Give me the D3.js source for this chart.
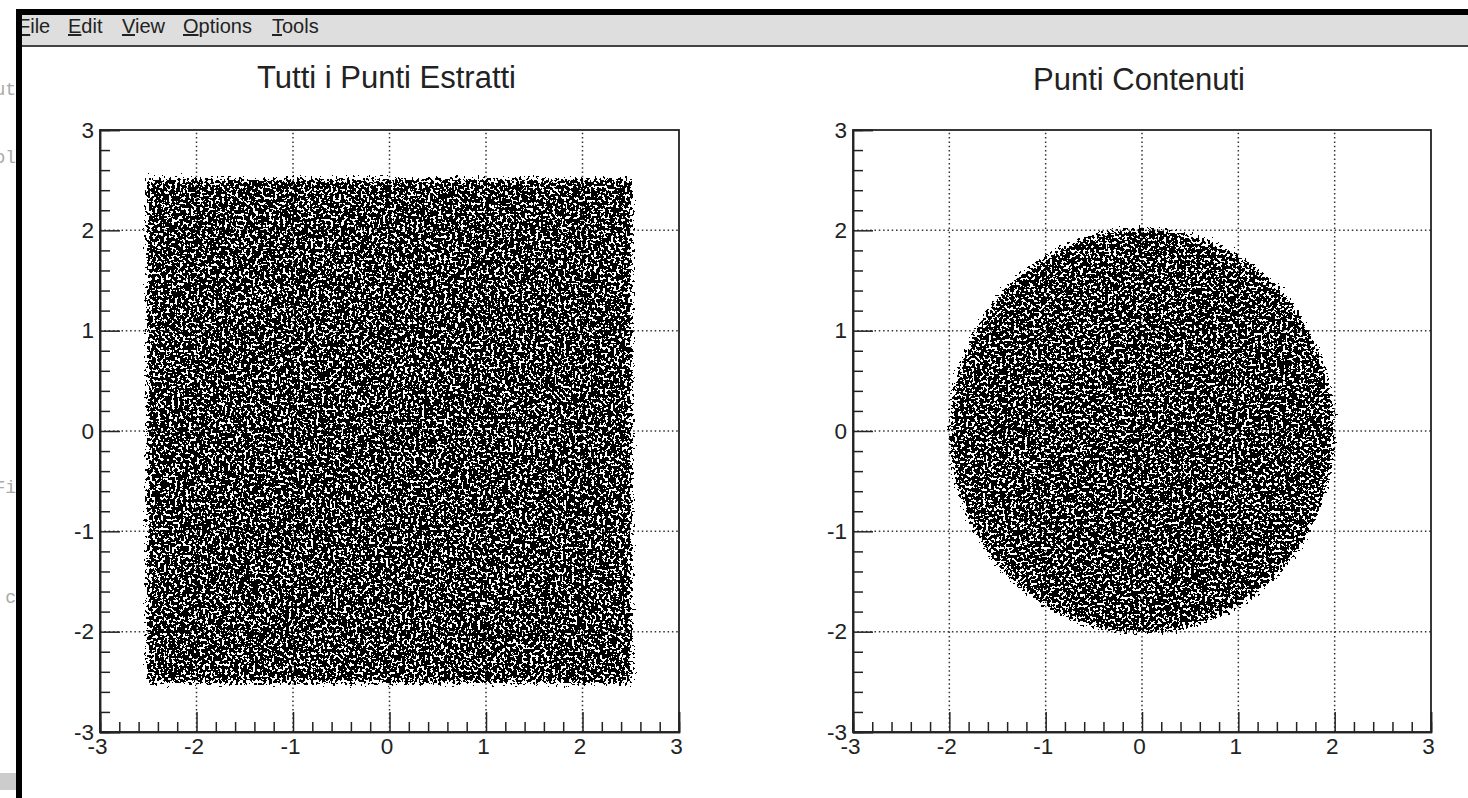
<!DOCTYPE html>
<html>
<head>
<meta charset="utf-8">
<script src="https://d3js.org/d3.v7.min.js"></script>
<style>
body { margin: 0; background: white; overflow: hidden; }
text { font-family: "Liberation Sans", Arial, sans-serif; fill: #111; }
.axis path, .axis line { stroke: #222; stroke-width: 1.5; }
.axis text { font-size: 22.5px; font-family: "Liberation Sans", Arial, sans-serif; fill: #222; }
.grid line { stroke: #333; stroke-width: 1.5; stroke-dasharray: 1.5 2.8; }
</style>
</head>
<body>
<div id="cont"></div>
<script>
// Values //

var menuItems = ["File", "Edit", "View", "Options", "Tools"];
var menuX = [18, 68, 122, 183, 272];
var majorTicks = [-3, -2, -1, 0, 1, 2, 3];
var minorTicks = [-2.8, -2.6, -2.4, -2.2, -1.8, -1.6, -1.4, -1.2, -0.8, -0.6, -0.4, -0.2,
	0.2, 0.4, 0.6, 0.8, 1.2, 1.4, 1.6, 1.8, 2.2, 2.4, 2.6, 2.8];
var gridTicks = [-2, -1, 0, 1, 2];
var titles = ["Tutti i Punti Estratti", "Punti Contenuti"];
var squareExtent = [-2.54, 2.54]; // extent of the left cloud, both axes
var discRadius = [2.02, 2.04];    // x and y radius of the right cloud
var behindText = [["ut", 95], ["ol", 163], ["Fi", 493], ["c", 603]];

// SVG Stuff //

var svg = d3.select("#cont").append("svg").attr("width", 1468).attr("height", 798)
	.style("display", "block");
var defs = svg.append("defs");

// Window behind the canvas
var back = svg.append("g");
back.selectAll("text").data(behindText).enter().append("text")
	.attr("x", 16).attr("y", function(d) { return d[1]; })
	.attr("text-anchor", "end")
	.style("font-family", "'Liberation Mono', monospace").style("font-size", "18px")
	.style("fill", "#aaa")
	.text(function(d) { return d[0]; });
back.append("rect").attr("x", 0).attr("y", 773).attr("width", 16).attr("height", 17).attr("fill", "#ccc");

// Window frame and menu bar
svg.append("rect").attr("x", 16).attr("y", 9).attr("width", 1452).attr("height", 6).attr("fill", "black");
svg.append("rect").attr("x", 16).attr("y", 9).attr("width", 6).attr("height", 789).attr("fill", "black");
svg.append("rect").attr("x", 22).attr("y", 15).attr("width", 1446).attr("height", 30).attr("fill", "#dedede");
svg.append("rect").attr("x", 22).attr("y", 45).attr("width", 1446).attr("height", 2).attr("fill", "#444");

defs.append("clipPath").attr("id", "menuClip").append("rect")
	.attr("x", 22).attr("y", 15).attr("width", 1446).attr("height", 30);

var menu = svg.append("g").attr("clip-path", "url(#menuClip)");
menuItems.forEach(function(name, i) {
	var t = menu.append("text").attr("x", menuX[i]).attr("y", 33)
		.style("font-size", "20px").style("fill", "#222");
	t.append("tspan").style("text-decoration", "underline").text(name[0]);
	t.append("tspan").text(name.slice(1));
});

// Noise grain for a point cloud. It is a texture only, the shape it fills comes from the scales
var grain = function(id, seed, x, y, w, h) {
	var f = defs.append("filter").attr("id", id)
		.attr("filterUnits", "userSpaceOnUse")
		.attr("x", x).attr("y", y).attr("width", w).attr("height", h)
		.attr("color-interpolation-filters", "sRGB");
	f.append("feGaussianBlur").attr("in", "SourceAlpha").attr("stdDeviation", 3.5).attr("result", "soft");
	f.append("feTurbulence").attr("type", "fractalNoise").attr("baseFrequency", 0.36)
		.attr("numOctaves", 2).attr("seed", seed).attr("result", "raw");
	f.append("feColorMatrix").attr("in", "raw").attr("type", "matrix")
		.attr("values", "0 0 0 0 0  0 0 0 0 0  0 0 0 0 0  1 0 0 0 0").attr("result", "noise");
	f.append("feComposite").attr("in", "soft").attr("in2", "noise").attr("operator", "arithmetic")
		.attr("k1", 0).attr("k2", 0.52).attr("k3", 1).attr("k4", -0.45).attr("result", "mix");
	var ct = f.append("feComponentTransfer").attr("in", "mix").attr("result", "hard");
	ct.append("feFuncR").attr("type", "discrete").attr("tableValues", "0 0");
	ct.append("feFuncG").attr("type", "discrete").attr("tableValues", "0 0");
	ct.append("feFuncB").attr("type", "discrete").attr("tableValues", "0 0");
	ct.append("feFuncA").attr("type", "discrete").attr("tableValues", "0 1");
};

var panel = function(left, right, title, titleX, titleY, drawCloud) {
	var x = d3.scaleLinear().domain([-3, 3]).range([left, right]);
	var y = d3.scaleLinear().domain([-3, 3]).range([732, 130]);
	var g = svg.append("g");

	g.append("text").attr("x", titleX).attr("y", titleY).attr("text-anchor", "middle")
		.style("font-size", "31px").style("fill", "#222").text(title);

	// grid
	var grid = g.append("g").attr("class", "grid");
	grid.selectAll(".gx").data(gridTicks).enter().append("line")
		.attr("x1", x).attr("x2", x).attr("y1", y(-3)).attr("y2", y(3));
	grid.selectAll(".gy").data(gridTicks).enter().append("line")
		.attr("y1", y).attr("y2", y).attr("x1", x(-3)).attr("x2", x(3));

	drawCloud(g, x, y);

	// frame
	g.append("rect").attr("x", x(-3)).attr("y", y(3))
		.attr("width", x(3) - x(-3)).attr("height", y(-3) - y(3))
		.attr("fill", "none").attr("stroke", "#222").attr("stroke-width", 1.8);

	// axes, ticks point inwards
	var bottom = g.append("g").attr("class", "axis").attr("transform", "translate(0,732)");
	bottom.call(d3.axisBottom(x).tickValues(majorTicks).tickSize(-20).tickPadding(6).tickFormat(String));
	bottom.selectAll("text").attr("dx", -3);
	bottom.append("g").call(d3.axisBottom(x).tickValues(minorTicks).tickSize(-10).tickFormat(""));

	var leftAxis = g.append("g").attr("class", "axis").attr("transform", "translate(" + left + ",0)");
	leftAxis.call(d3.axisLeft(y).tickValues(majorTicks).tickSize(-20).tickPadding(6).tickFormat(String));
	leftAxis.append("g").call(d3.axisLeft(y).tickValues(minorTicks).tickSize(-10).tickFormat(""));

	g.selectAll(".axis g g .domain").remove();
	g.selectAll(".axis").selectAll("text").filter(function() { return this.textContent === ""; }).remove();
};

panel(100, 679, titles[0], 386.5, 88, function(g, x, y) {
	grain("cloudA", 3, x(-3), y(3), x(3) - x(-3), y(-3) - y(3));
	g.append("rect").attr("filter", "url(#cloudA)")
		.attr("x", x(squareExtent[0])).attr("y", y(squareExtent[1]))
		.attr("width", x(squareExtent[1]) - x(squareExtent[0]))
		.attr("height", y(squareExtent[0]) - y(squareExtent[1]))
		.attr("fill", "black");
});

panel(853, 1431, titles[1], 1139, 90, function(g, x, y) {
	grain("cloudB", 11, x(-3), y(3), x(3) - x(-3), y(-3) - y(3));
	g.append("ellipse").attr("filter", "url(#cloudB)")
		.attr("cx", x(0)).attr("cy", y(0))
		.attr("rx", x(discRadius[0]) - x(0)).attr("ry", y(0) - y(discRadius[1]))
		.attr("fill", "black");
});
</script>
</body>
</html>
